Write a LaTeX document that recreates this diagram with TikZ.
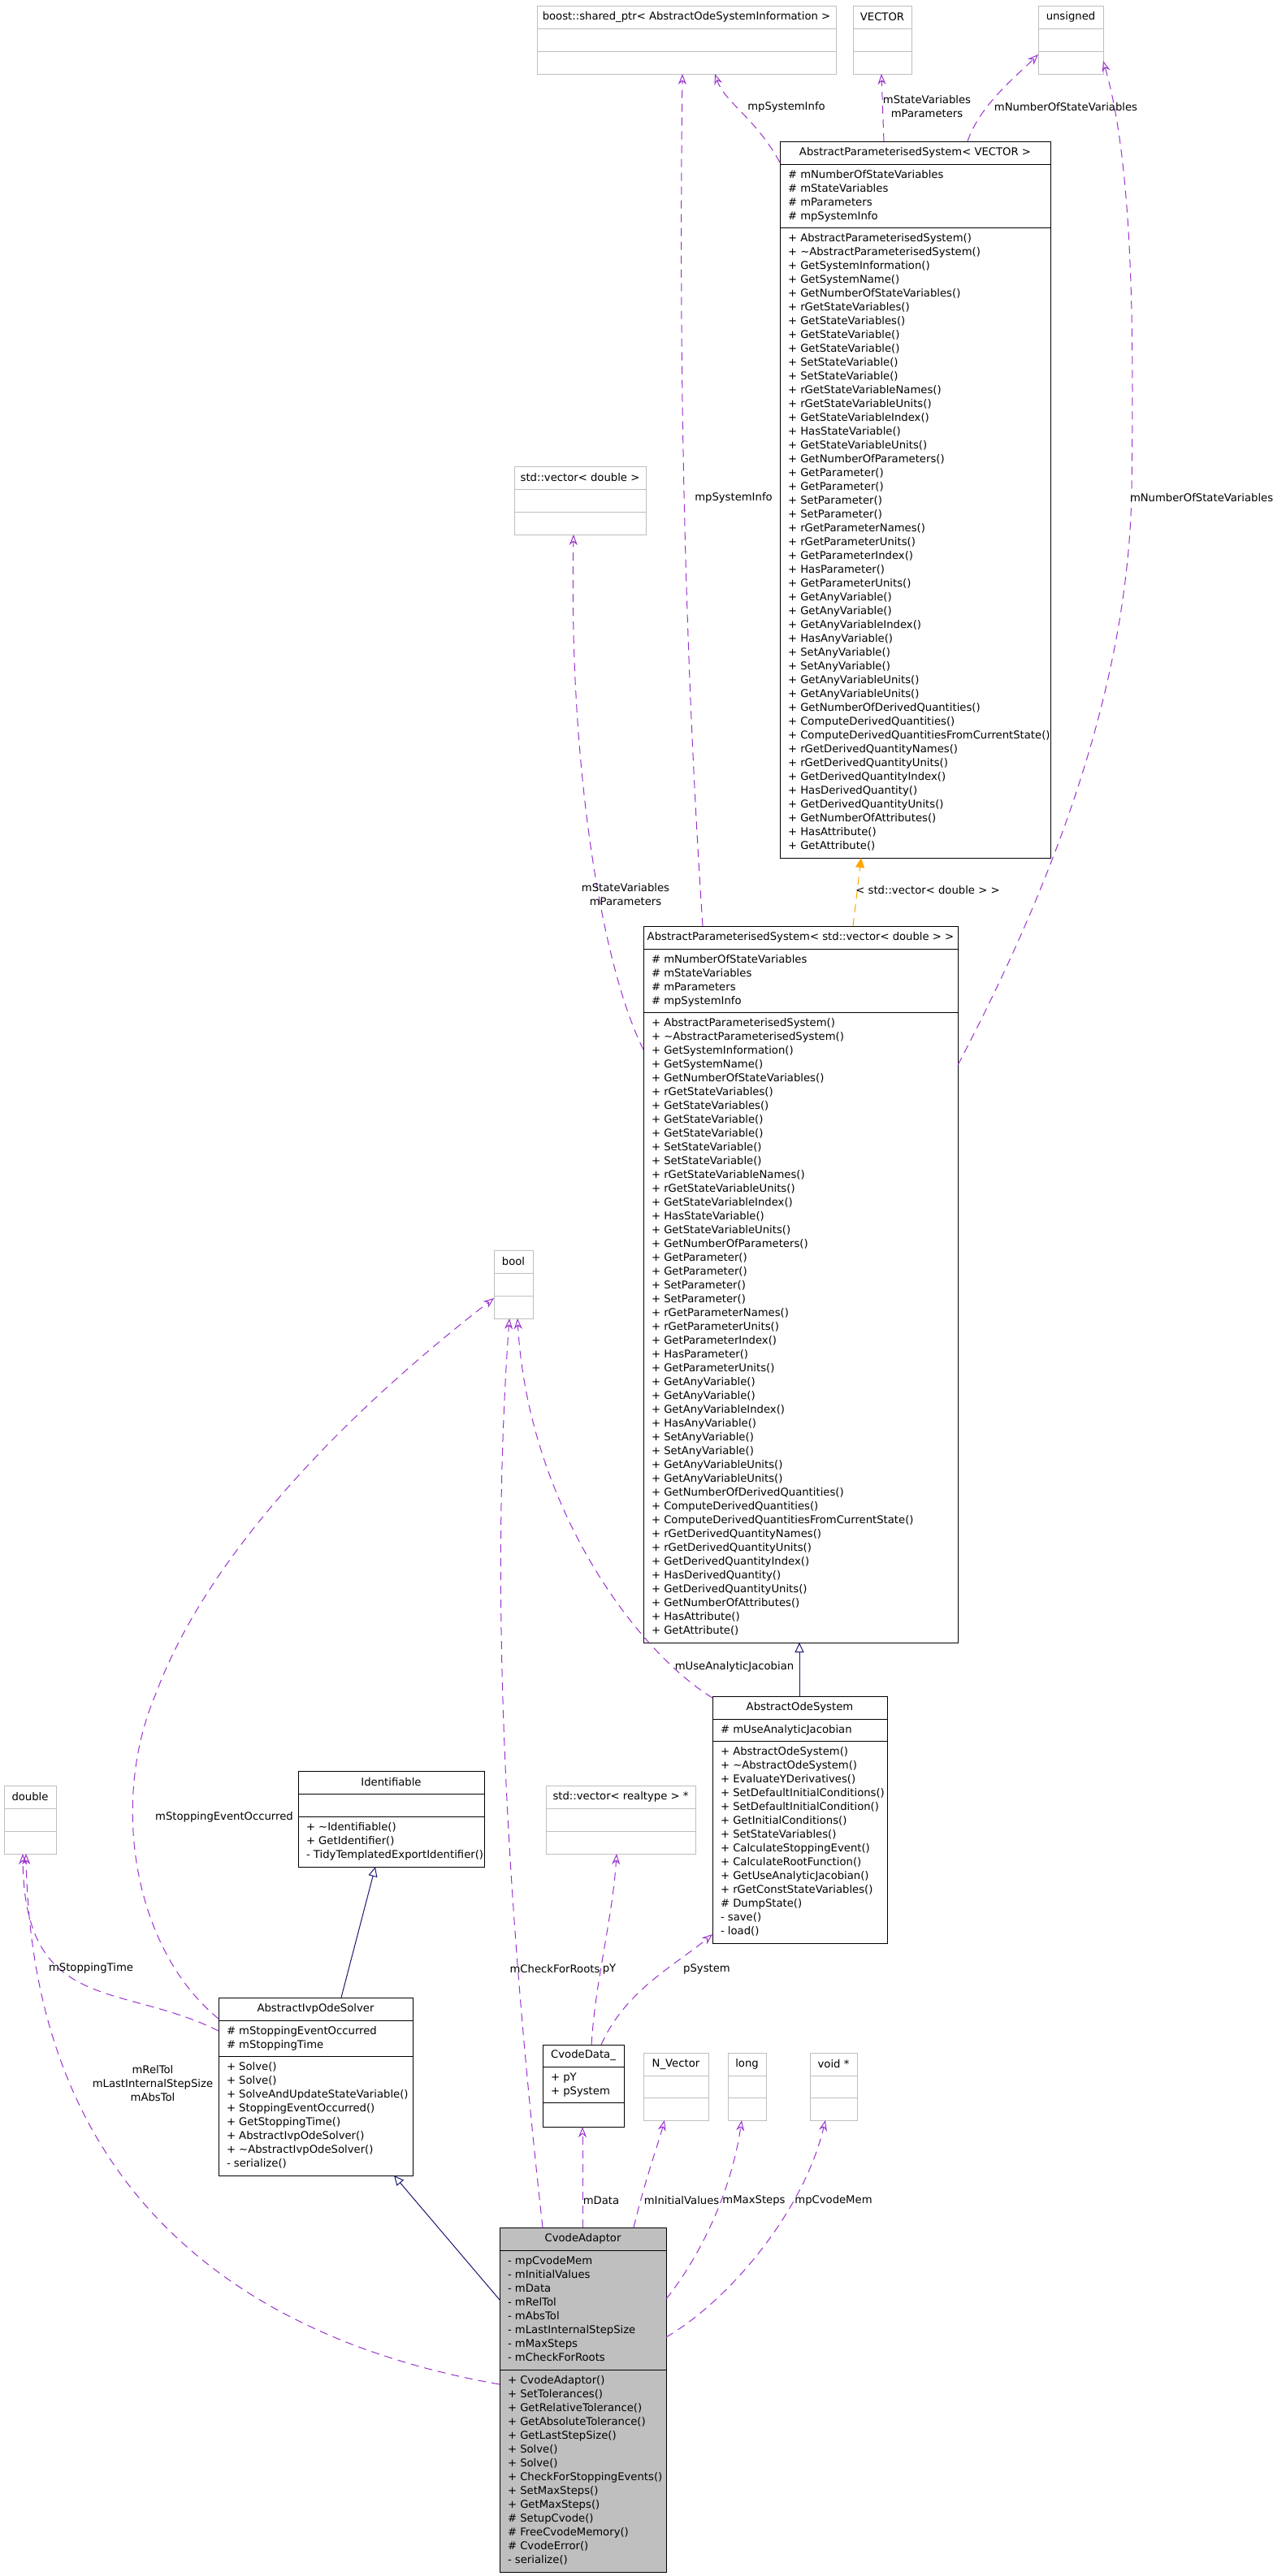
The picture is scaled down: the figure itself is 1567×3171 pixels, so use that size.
\documentclass[tikz,border=0pt]{standalone}
\usepackage{fontspec}
\setmainfont{DejaVu Sans}
\usetikzlibrary{arrows.meta,fit,calc}
\definecolor{depc}{HTML}{9A32CD}
\definecolor{inhc}{HTML}{191970}
\definecolor{tmplc}{HTML}{FFA500}
\definecolor{greyb}{HTML}{BFBFBF}
\tikzset{
  txt/.style={font=\fontsize{6.6}{8.5}\selectfont, inner sep=0pt, outer sep=0pt},
  rows/.style={txt, align=left, anchor=north west},
  lbl/.style={txt, align=center},
  blk/.style={draw=black, line width=0.5pt, inner sep=0pt, outer sep=0pt},
  blk sep/.style={draw=black, line width=0.5pt},
  gry/.style={draw=greyb, line width=0.5pt, inner sep=0pt, outer sep=0pt},
  gry sep/.style={draw=greyb, line width=0.5pt},
  cur/.style={blk, fill=greyb},
  cur sep/.style={blk sep},
  dep/.style={draw=depc, line width=0.5pt, dash pattern=on 5pt off 3.5pt, -{Stealth[open, length=6.5pt, width=5pt]}},
  inh/.style={draw=inhc, line width=0.5pt, -{Triangle[open, length=6pt, width=5.5pt, fill=white]}},
  tmpl/.style={draw=tmplc, line width=0.5pt, dash pattern=on 5pt off 3.5pt, -{Triangle[length=6pt, width=5.5pt, fill=tmplc]}},
}
\newcommand\umlbox[9]{%
  \node[#2, fit={(#3,#4) (#5,#6)}] (#1) {};
  \draw[#2 sep] (#3,#7) -- (#5,#7) (#3,#8) -- (#5,#8);
  \node[txt] (#1-title) at ($(#3,#4)!0.5!(#5,#7)$) {#9};
}
\newcommand\apsmethods{\strut+ AbstractParameterisedSystem()\\
+ \textasciitilde AbstractParameterisedSystem()\\
+ GetSystemInformation()\\
+ GetSystemName()\\
+ GetNumberOfStateVariables()\\
+ rGetStateVariables()\\
+ GetStateVariables()\\
+ GetStateVariable()\\
+ GetStateVariable()\\
+ SetStateVariable()\\
+ SetStateVariable()\\
+ rGetStateVariableNames()\\
+ rGetStateVariableUnits()\\
+ GetStateVariableIndex()\\
+ HasStateVariable()\\
+ GetStateVariableUnits()\\
+ GetNumberOfParameters()\\
+ GetParameter()\\
+ GetParameter()\\
+ SetParameter()\\
+ SetParameter()\\
+ rGetParameterNames()\\
+ rGetParameterUnits()\\
+ GetParameterIndex()\\
+ HasParameter()\\
+ GetParameterUnits()\\
+ GetAnyVariable()\\
+ GetAnyVariable()\\
+ GetAnyVariableIndex()\\
+ HasAnyVariable()\\
+ SetAnyVariable()\\
+ SetAnyVariable()\\
+ GetAnyVariableUnits()\\
+ GetAnyVariableUnits()\\
+ GetNumberOfDerivedQuantities()\\
+ ComputeDerivedQuantities()\\
+ ComputeDerivedQuantitiesFromCurrentState()\\
+ rGetDerivedQuantityNames()\\
+ rGetDerivedQuantityUnits()\\
+ GetDerivedQuantityIndex()\\
+ HasDerivedQuantity()\\
+ GetDerivedQuantityUnits()\\
+ GetNumberOfAttributes()\\
+ HasAttribute()\\
+ GetAttribute()}
\newcommand\apsattrs{\strut\# mNumberOfStateVariables\\\# mStateVariables\\\# mParameters\\\# mpSystemInfo}
\begin{document}
\begin{tikzpicture}[x=0.5pt,y=-0.5pt]
\fill[white] (0,0) rectangle (1567,3171);
\useasboundingbox (0,0) rectangle (1567,3171);
% boxes
\umlbox{boost}{gry}{661}{7}{1029}{91}{35}{63}{boost::shared\_ptr< AbstractOdeSystemInformation >}
\umlbox{vector}{gry}{1050}{7}{1122}{91}{35}{63}{VECTOR}
\umlbox{unsigned}{gry}{1278}{7}{1358}{91}{35}{63}{unsigned}
\umlbox{apsv}{blk}{960}{174}{1293}{1056}{202}{280}{AbstractParameterisedSystem< VECTOR >}
\node[rows] (apsv-a) at (970,208) {\apsattrs};
\node[rows] (apsv-m) at (970,286) {\apsmethods};
\umlbox{vecd}{gry}{633}{574}{795}{658}{602}{630}{std::vector< double >}
\umlbox{apsd}{blk}{792}{1140}{1179}{2022}{1168}{1246}{AbstractParameterisedSystem< std::vector< double > >}
\node[rows] (apsd-a) at (802,1174) {\apsattrs};
\node[rows] (apsd-m) at (802,1252) {\apsmethods};
\umlbox{bool}{gry}{608}{1539}{656}{1623}{1567}{1595}{bool}
\umlbox{aos}{blk}{877}{2088}{1092}{2392}{2116}{2143}{AbstractOdeSystem}
\node[rows] (aos-a) at (887,2122) {\strut\# mUseAnalyticJacobian};
\node[rows] (aos-m) at (887,2149) {\strut+ AbstractOdeSystem()\\+ \textasciitilde AbstractOdeSystem()\\+ EvaluateYDerivatives()\\+ SetDefaultInitialConditions()\\+ SetDefaultInitialCondition()\\+ GetInitialConditions()\\+ SetStateVariables()\\+ CalculateStoppingEvent()\\+ CalculateRootFunction()\\+ GetUseAnalyticJacobian()\\+ rGetConstStateVariables()\\\# DumpState()\\- save()\\- load()};
\umlbox{ident}{blk}{367}{2180}{596}{2298}{2208}{2236}{Identifiable}
\node[rows] (ident-m) at (377,2242) {\strut+ \textasciitilde Identifiable()\\+ GetIdentifier()\\- TidyTemplatedExportIdentifier()};
\umlbox{dbl}{gry}{5}{2198}{69}{2282}{2226}{2254}{double}
\umlbox{vecr}{gry}{672}{2198}{856}{2282}{2226}{2254}{std::vector< realtype > *}
\umlbox{aios}{blk}{269}{2459}{508}{2678}{2487}{2531}{AbstractIvpOdeSolver}
\node[rows] (aios-a) at (279,2493) {\strut\# mStoppingEventOccurred\\\# mStoppingTime};
\node[rows] (aios-m) at (279,2537) {\strut+ Solve()\\+ Solve()\\+ SolveAndUpdateStateVariable()\\+ StoppingEventOccurred()\\+ GetStoppingTime()\\+ AbstractIvpOdeSolver()\\+ \textasciitilde AbstractIvpOdeSolver()\\- serialize()};
\umlbox{cdata}{blk}{668}{2517}{768}{2618}{2544}{2588}{CvodeData\_}
\node[rows] (cdata-a) at (678,2550) {\strut+ pY\\+ pSystem};
\umlbox{nvec}{gry}{792}{2527}{872}{2610}{2555}{2582}{N\_Vector}
\umlbox{longb}{gry}{896}{2527}{943}{2610}{2555}{2582}{long}
\umlbox{voidp}{gry}{997}{2527}{1055}{2610}{2555}{2582}{void *}
\umlbox{cvode}{cur}{615}{2742}{820}{3166}{2770}{2917}{CvodeAdaptor}
\node[rows] (cvode-a) at (625,2776) {\strut- mpCvodeMem\\- mInitialValues\\- mData\\- mRelTol\\- mAbsTol\\- mLastInternalStepSize\\- mMaxSteps\\- mCheckForRoots};
\node[rows] (cvode-m) at (625,2923) {\strut+ CvodeAdaptor()\\+ SetTolerances()\\+ GetRelativeTolerance()\\+ GetAbsoluteTolerance()\\+ GetLastStepSize()\\+ Solve()\\+ Solve()\\+ CheckForStoppingEvents()\\+ SetMaxSteps()\\+ GetMaxSteps()\\\# SetupCvode()\\\# FreeCvodeMemory()\\\# CvodeError()\\- serialize()};
% connectors
\draw[dep] ($(apsv.north west)+(0,26)$) .. controls +(-30,-55) and +(12,35) .. ($(boost.south west)+(219,0)$);
\draw[dep] ($(apsv.north west)+(128,0)$) -- ($(vector.south west)+(35,0)$);
\draw[dep] ($(apsv.north west)+(231,0)$) .. controls +(15,-45) and +(-25,25) .. ($(unsigned.south west)+(0,-24)$);
\draw[dep] ($(apsd.north west)+(73,0)$) .. controls +(-20,-300) and +(-5,400) .. ($(boost.south west)+(179,0)$);
\draw[dep] ($(apsd.north west)+(0,152)$) .. controls +(-50,-100) and +(-6,292) .. ($(vecd.south west)+(73,0)$);
\draw[dep] ($(apsd.north east)+(0,171)$) .. controls +(111,-211) and +(-3,250) .. ++(214,-711) .. controls +(3,-200) and +(36,125) .. ($(unsigned.south east)+(0,-16)$);
\draw[tmpl] ($(apsd.north west)+(258,0)$) -- ($(apsv.south west)+(100,0)$);
\draw[inh] ($(aos.north west)+(107,0)$) -- ($(apsd.south west)+(192,0)$);
\draw[dep] ($(aos.north west)+(0,2)$) .. controls +(-97,-60) and +(13,227) .. ($(bool.south west)+(29,0)$);
\draw[dep] ($(aios.north west)+(0,26)$) .. controls +(-104,-85) and +(-56,133) .. ++(-78,-398) .. controls +(69,-187) and +(-158,122) .. ($(bool.south west)+(0,-25)$);
\draw[dep] ($(aios.north west)+(0,41)$) .. controls +(-119,-60) and +(2,198) .. ($(dbl.south west)+(23,0)$);
\draw[inh] ($(aios.north west)+(151,0)$) -- ($(ident.south west)+(95,0)$);
\draw[dep] ($(cvode.north west)+(0,193)$) .. controls +(-315,-55) and +(8,418) .. ($(dbl.south west)+(27,0)$);
\draw[dep] ($(cvode.north west)+(53,0)$) .. controls +(-38,-342) and +(-27,377) .. ($(bool.south west)+(19,0)$);
\draw[dep] ($(cvode.north west)+(102,0)$) -- ($(cdata.south west)+(49,0)$);
\draw[dep] ($(cvode.north west)+(165,0)$) .. controls +(15,-62) and +(-8,30) .. ($(nvec.south west)+(26,0)$);
\draw[dep] ($(cvode.north east)+(0,88)$) .. controls +(40,-50) and +(-13,90) .. ($(longb.south west)+(17,0)$);
\draw[dep] ($(cvode.north east)+(0,135)$) .. controls +(80,-47) and +(-26,110) .. ($(voidp.south west)+(19,0)$);
\draw[inh] ($(cvode.north west)+(0,89)$) -- ($(aios.south west)+(216,0)$);
\draw[dep] ($(cdata.north west)+(60,0)$) .. controls +(5,-80) and +(-5,80) .. ($(vecr.south west)+(87,0)$);
\draw[dep] ($(cdata.north west)+(72,0)$) .. controls +(30,-67) and +(-47,39) .. ($(aos.south west)+(0,-11)$);
% labels
\node[lbl] (l1) at (968,132) {mpSystemInfo};
\node[lbl] (l2) at (1141,131) {mStateVariables\\mParameters};
\node[lbl] (l3) at (1312,132) {mNumberOfStateVariables};
\node[lbl] (l4) at (903,613) {mpSystemInfo};
\node[lbl] (l5) at (770,1101) {mStateVariables\\mParameters};
\node[lbl, anchor=west] (l6) at (1391,613) {mNumberOfStateVariables};
\node[lbl] (l7) at (1142,1096) {< std::vector< double > >};
\node[lbl] (l8) at (904,2052) {mUseAnalyticJacobian};
\node[lbl] (l9) at (276,2237) {mStoppingEventOccurred};
\node[lbl] (l10) at (112,2423) {mStoppingTime};
\node[lbl] (l11) at (188,2565) {mRelTol\\mLastInternalStepSize\\mAbsTol};
\node[lbl] (l12) at (683,2424) {mCheckForRoots};
\node[lbl] (l13) at (750,2424) {pY};
\node[lbl] (l14) at (870,2424) {pSystem};
\node[lbl] (l15) at (740,2709) {mData};
\node[lbl] (l16) at (839,2709) {mInitialValues};
\node[lbl] (l17) at (928,2709) {mMaxSteps};
\node[lbl] (l18) at (1026,2709) {mpCvodeMem};
\end{tikzpicture}
\end{document}
